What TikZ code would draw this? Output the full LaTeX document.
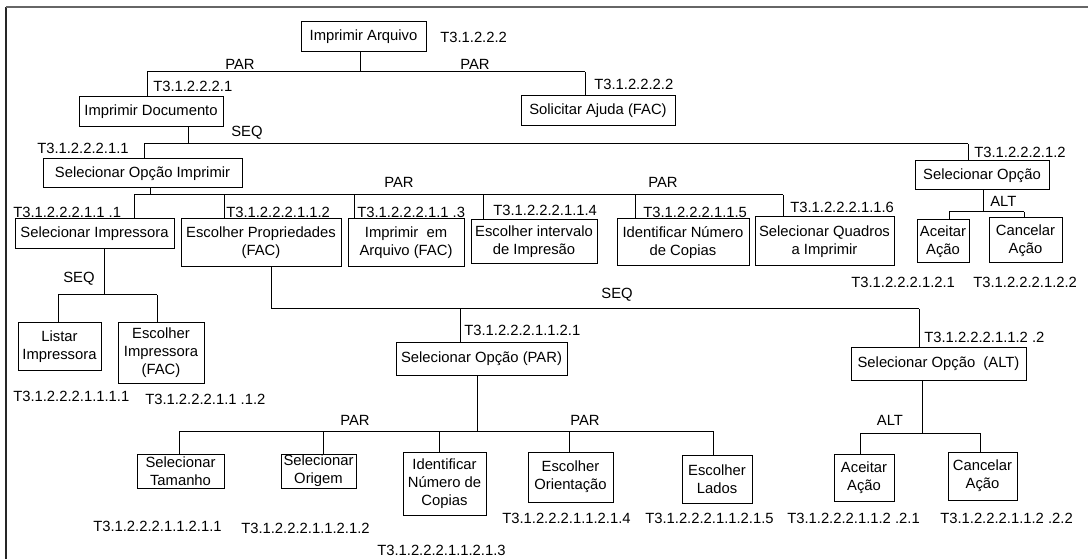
\documentclass[tikz,border=0pt]{standalone}
\usepackage{fontspec}
\setmainfont{Liberation Sans}
\newcommand\diagfont{\fontsize{11.1}{13.5}\selectfont}
\newcommand\bx[6]{%
  \pgfmathsetmacro\bxcx{(#2+#4)/2}%
  \pgfmathsetmacro\bxcy{(#3+#5)/2}%
  \pgfmathsetmacro\bxw{(#4-#2)*0.75}%
  \pgfmathsetmacro\bxh{(#5-#3)*0.75}%
  \node[box, minimum width=\bxw pt, minimum height=\bxh pt] (#1) at (\bxcx,\bxcy) {#6};}
\newcommand\drop[2]{\draw[ln] (#1) -- (#1 |- #2.north);}
\begin{document}
\begin{tikzpicture}[x=0.75pt,y=-0.75pt,
  box/.style={draw, line width=0.75pt, inner sep=0pt, align=center, font=\diagfont},
  lbl/.style={inner sep=0pt, anchor=west, font=\diagfont},
  op/.style={inner sep=0pt, font=\diagfont},
  ln/.style={line width=0.75pt},
  frame/.style={line width=1.4pt}]
\useasboundingbox (0,0) rectangle (1088,559);
% frame
\coordinate (f1) at (6,559);
\coordinate (f2) at (6,7);
\coordinate (f3) at (1088,7);
\draw[frame, black!85] (f1) -- (f2);
\draw[frame, black!60] (f2) -- (f3);

% boxes
\bx{arq}{301}{22}{426}{52}{Imprimir Arquivo}
\bx{doc}{79}{97}{223}{127}{Imprimir Documento}
\bx{aju}{521}{96}{675}{126}{Solicitar Ajuda (FAC)}
\bx{soi}{43}{159}{242}{188}{Selecionar Opção Imprimir}
\bx{so}{915}{161}{1049}{190}{Selecionar Opção}
\bx{si}{15}{219}{174}{249}{Selecionar Impressora}
\bx{ep}{181}{219}{341}{267}{Escolher Propriedades\\(FAC)}
\bx{ia}{348}{219}{464}{267}{Imprimir\ \ em\\Arquivo (FAC)}
\bx{ei}{471}{220}{597}{264}{Escolher intervalo\\de Impresão}
\bx{in}{617}{219}{749}{266}{Identificar Número\\de Copias}
\bx{sq}{755}{217}{894}{266}{Selecionar Quadros\\a Imprimir}
\bx{aaa}{917}{220}{969}{263}{Aceitar\\Ação}
\bx{caa}{989}{218}{1062}{263}{Cancelar\\Ação}
\bx{li}{18}{323}{101}{370}{Listar\\Impressora}
\bx{eimp}{118}{323}{204}{383}{Escolher\\Impressora\\(FAC)}
\bx{sop}{396}{343}{567}{375}{Selecionar Opção (PAR)}
\bx{soa}{851}{348}{1026}{380}{Selecionar Opção\ \ (ALT)}
\bx{st}{137}{454}{224}{488}{Selecionar\\Tamanho}
\bx{sor}{281}{454}{356}{488}{Selecionar\\Origem}
\bx{inc}{403}{452}{486}{515}{Identificar\\Número de\\Copias}
\bx{eo}{528}{452}{613}{502}{Escolher\\Orientação}
\bx{el}{682}{455}{752}{503}{Escolher\\Lados}
\bx{aab}{834}{454}{894}{501}{Aceitar\\Ação}
\bx{cab}{948}{452}{1017}{500}{Cancelar\\Ação}

% connectors: Imprimir Arquivo
\coordinate (sA) at (360,72);
\coordinate (bA1) at (147,72);
\coordinate (bA2) at (585,72);
\draw[ln] (arq.south -| sA) -- (sA);
\draw[ln] (bA1) -- (bA2);
\drop{bA1}{doc}
\drop{bA2}{aju}

% Imprimir Documento
\coordinate (sB) at (188,144);
\coordinate (bB1) at (144,144);
\coordinate (bB2) at (968,144);
\draw[ln] (doc.south -| sB) -- (sB);
\draw[ln] (bB1) -- (bB2);
\drop{bB1}{soi}
\drop{bB2}{so}

% Selecionar Opcao Imprimir
\coordinate (sC) at (150,195);
\coordinate (bC1) at (134,195);
\coordinate (bC2) at (224,195);
\coordinate (bC3) at (354,195);
\coordinate (bC4) at (483,195);
\coordinate (bC5) at (635,195);
\coordinate (bC6) at (783,195);
\draw[ln] (soi.south -| sC) -- (sC);
\draw[ln] (bC1) -- (bC6);
\drop{bC1}{si}
\drop{bC2}{ep}
\drop{bC3}{ia}
\drop{bC4}{ei}
\drop{bC5}{in}
\drop{bC6}{sq}

% Selecionar Opcao
\coordinate (sD) at (983,212);
\coordinate (bD1) at (949,212);
\coordinate (bD2) at (1024,212);
\draw[ln] (so.south -| sD) -- (sD);
\draw[ln] (bD1) -- (bD2);
\drop{bD1}{aaa}
\drop{bD2}{caa}

% Selecionar Impressora
\coordinate (sE) at (104,295);
\coordinate (bE1) at (58,295);
\coordinate (bE2) at (157,295);
\draw[ln] (si.south -| sE) -- (sE);
\draw[ln] (bE1) -- (bE2);
\drop{bE1}{li}
\drop{bE2}{eimp}

% Escolher Propriedades
\coordinate (bF1) at (271,309);
\coordinate (bF2) at (460,309);
\coordinate (bF3) at (919,309);
\draw[ln] (ep.south -| bF1) -- (bF1);
\draw[ln] (bF1) -- (bF3);
\drop{bF2}{sop}
\drop{bF3}{soa}

% Selecionar Opcao (PAR)
\coordinate (sG) at (477,431);
\coordinate (bG1) at (179,431);
\coordinate (bG2) at (323,431);
\coordinate (bG3) at (439,431);
\coordinate (bG4) at (569,431);
\coordinate (bG5) at (713,431);
\draw[ln] (sop.south -| sG) -- (sG);
\draw[ln] (bG1) -- (bG5);
\drop{bG1}{st}
\drop{bG2}{sor}
\drop{bG3}{inc}
\drop{bG4}{eo}
\drop{bG5}{el}

% Selecionar Opcao (ALT)
\coordinate (sH) at (922,433);
\coordinate (bH1) at (860,433);
\coordinate (bH2) at (980,433);
\draw[ln] (soa.south -| sH) -- (sH);
\draw[ln] (bH1) -- (bH2);
\drop{bH1}{aab}
\drop{bH2}{cab}

% operator labels
\node[op] (o1) at (240,64) {PAR};
\node[op] (o2) at (475,64) {PAR};
\node[op] (o3) at (247,133) {SEQ};
\node[op] (o4) at (399,182) {PAR};
\node[op] (o5) at (663,182) {PAR};
\node[lbl] (o6) at (990,201) {ALT};
\node[op] (o7) at (79,279) {SEQ};
\node[op] (o8) at (617,295) {SEQ};
\node[op] (o9) at (355,420) {PAR};
\node[op] (o10) at (585,420) {PAR};
\node[op] (o11) at (890,420) {ALT};

% task ids
\node[lbl] (t1) at (440,37) {T3.1.2.2.2};
\node[lbl] (t2) at (153,86) {T3.1.2.2.2.1};
\node[lbl] (t3) at (594,84) {T3.1.2.2.2.2};
\node[lbl] (t4) at (37,148) {T3.1.2.2.2.1.1};
\node[lbl] (t5) at (974,152) {T3.1.2.2.2.1.2};
\node[lbl] (t6) at (13,212) {T3.1.2.2.2.1.1 .1};
\node[lbl] (t7) at (226,212) {T3.1.2.2.2.1.1.2};
\node[lbl] (t8) at (357,212) {T3.1.2.2.2.1.1 .3};
\node[lbl] (t9) at (493,210) {T3.1.2.2.2.1.1.4};
\node[lbl] (t10) at (643,212) {T3.1.2.2.2.1.1.5};
\node[lbl] (t11) at (790,207) {T3.1.2.2.2.1.1.6};
\node[lbl] (t12) at (851,282) {T3.1.2.2.2.1.2.1};
\node[lbl] (t13) at (973,282) {T3.1.2.2.2.1.2.2};
\node[lbl] (t14) at (464,330) {T3.1.2.2.2.1.1.2.1};
\node[lbl] (t15) at (924,337) {T3.1.2.2.2.1.1.2 .2};
\node[lbl] (t16) at (13,396) {T3.1.2.2.2.1.1.1.1};
\node[lbl] (t17) at (145,399) {T3.1.2.2.2.1.1 .1.2};
\node[lbl] (t18) at (93,526) {T3.1.2.2.2.1.1.2.1.1};
\node[lbl] (t19) at (241,528) {T3.1.2.2.2.1.1.2.1.2};
\node[lbl] (t20) at (377,550) {T3.1.2.2.2.1.1.2.1.3};
\node[lbl] (t21) at (502,518) {T3.1.2.2.2.1.1.2.1.4};
\node[lbl] (t22) at (645,518) {T3.1.2.2.2.1.1.2.1.5};
\node[lbl] (t23) at (787,518) {T3.1.2.2.2.1.1.2 .2.1};
\node[lbl] (t24) at (940,518) {T3.1.2.2.2.1.1.2 .2.2};
\end{tikzpicture}
\end{document}
